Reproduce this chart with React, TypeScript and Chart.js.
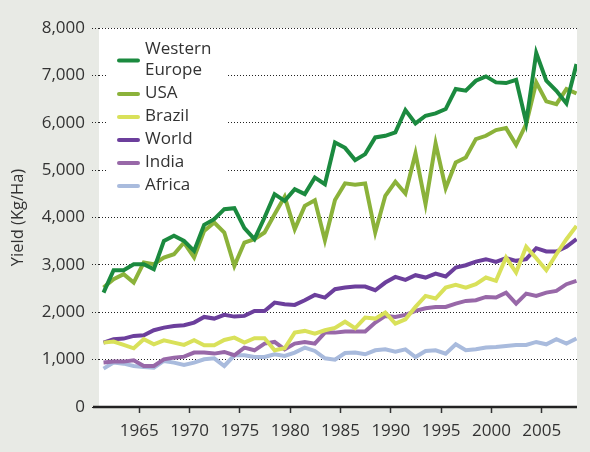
import React, { useEffect, useRef } from "react";
import { Chart, registerables } from "chart.js";

Chart.register(...registerables);

const years = [
  1961, 1962, 1963, 1964, 1965, 1966, 1967, 1968, 1969, 1970,
  1971, 1972, 1973, 1974, 1975, 1976, 1977, 1978, 1979, 1980,
  1981, 1982, 1983, 1984, 1985, 1986, 1987, 1988, 1989, 1990,
  1991, 1992, 1993, 1994, 1995, 1996, 1997, 1998, 1999, 2000,
  2001, 2002, 2003, 2004, 2005, 2006, 2007, 2008,
];

const westernEurope = [
  2415, 2887, 2887, 3014, 3014, 2908, 3507, 3613, 3507, 3296,
  3845, 3965, 4176, 4197, 3775, 3542, 4000, 4493, 4352, 4599,
  4493, 4845, 4704, 5585, 5470, 5211, 5338, 5690, 5725, 5796,
  6268, 5986, 6148, 6197, 6289, 6711, 6676, 6887, 6979, 6852,
  6838, 6908, 6007, 7472, 6887, 6676, 6408, 7239,
];
const usa = [
  2521, 2697, 2803, 2627, 3049, 3014, 3155, 3225, 3472, 3155,
  3718, 3894, 3683, 2979, 3472, 3542, 3683, 4070, 4437, 3754,
  4246, 4366, 3521, 4370, 4720, 4690, 4718, 3683, 4458, 4754,
  4507, 5352, 4282, 5563, 4620, 5162, 5268, 5655, 5725, 5845,
  5887, 5535, 5972, 6852, 6451, 6394, 6711, 6620,
];
const brazil = [
  1359, 1380, 1310, 1239, 1430, 1324, 1408, 1359, 1310, 1408,
  1303, 1303, 1415, 1465, 1359, 1451, 1451, 1197, 1239, 1570,
  1606, 1549, 1620, 1670, 1800, 1662, 1887, 1866, 1993, 1761,
  1852, 2113, 2345, 2289, 2521, 2577, 2521, 2592, 2732, 2662,
  3155, 2838, 3380, 3141, 2887, 3225, 3542, 3824,
];
const world = [
  1359, 1430, 1444, 1500, 1514, 1620, 1676, 1711, 1725, 1782,
  1901, 1866, 1944, 1908, 1923, 2028, 2028, 2204, 2169, 2155,
  2254, 2366, 2310, 2486, 2521, 2542, 2542, 2465, 2627, 2746,
  2683, 2782, 2732, 2817, 2754, 2944, 2993, 3070, 3120, 3063,
  3141, 3085, 3120, 3352, 3282, 3282, 3380, 3542,
];
const india = [
  937, 958, 958, 986, 866, 866, 1007, 1042, 1063, 1148,
  1148, 1127, 1162, 1092, 1254, 1197, 1338, 1373, 1218, 1338,
  1373, 1338, 1570, 1570, 1592, 1592, 1592, 1782, 1923, 1901,
  1944, 2028, 2085, 2113, 2113, 2183, 2239, 2254, 2324, 2310,
  2415, 2183, 2394, 2345, 2415, 2451, 2592, 2662,
];
const africa = [
  810, 937, 915, 866, 845, 831, 972, 937, 887, 937,
  1007, 1028, 866, 1092, 1092, 1056, 1056, 1113, 1077, 1148,
  1254, 1183, 1028, 997, 1140, 1148, 1113, 1197, 1218, 1169,
  1218, 1056, 1183, 1197, 1127, 1324, 1197, 1218, 1254, 1268,
  1289, 1310, 1310, 1373, 1324, 1430, 1338, 1444,
];

const seriesNames = ["Western Europe", "USA", "Brazil", "World", "India", "Africa"];
const seriesValues = [westernEurope, usa, brazil, world, india, africa];
const seriesColors = ["#1b8a3f", "#8bb23a", "#d9e15a", "#6c3f9c", "#9868a8", "#a9bbdd"];

const xTicks = [1965, 1970, 1975, 1980, 1985, 1990, 1995, 2000, 2005];
const yTitle = "Yield (Kg/Ha)";

const FONT = "'Open Sans', 'Liberation Sans', Arial, sans-serif";
const TEXT = "#333333";

export default function App() {
  const ref = useRef<HTMLCanvasElement>(null);

  useEffect(() => {
    const canvas = ref.current!;
    const bgPlugin = {
      id: "bg",
      beforeDraw(chart: any) {
        const { ctx, chartArea } = chart;
        ctx.save();
        ctx.fillStyle = "#ffffff";
        ctx.fillRect(chartArea.left, chartArea.top, chartArea.right - chartArea.left, chartArea.bottom - chartArea.top);
        ctx.restore();
      },
    };
    const legendPlugin = {
      id: "customLegend",
      beforeDatasetsDraw(chart: any) {
        const { ctx, chartArea } = chart;
        ctx.save();
        ctx.fillStyle = "#ffffff";
        ctx.fillRect(chartArea.left + 9, chartArea.top + 6, 118, 166);
        ctx.font = `17px ${FONT}`;
        ctx.textBaseline = "middle";
        ctx.textAlign = "left";
        let y = chartArea.top + 21;
        seriesNames.forEach((name, i) => {
          const lines = name.includes(" ") ? name.split(" ") : [name];
          const ys = lines.map((_, k) => y + k * 21);
          const my = (ys[0] + ys[ys.length - 1]) / 2 + 1;
          ctx.strokeStyle = seriesColors[i];
          ctx.lineWidth = 4;
          ctx.lineCap = "round";
          ctx.beginPath();
          ctx.moveTo(chartArea.left + 20, my);
          ctx.lineTo(chartArea.left + 39, my);
          ctx.stroke();
          ctx.fillStyle = TEXT;
          lines.forEach((ln, k) => ctx.fillText(ln, chartArea.left + 46, ys[k]));
          y = ys[ys.length - 1] + 23;
        });
        ctx.restore();
      },
      afterDraw(chart: any) {
        const { ctx, chartArea } = chart;
        ctx.save();
        ctx.strokeStyle = "#222222";
        ctx.lineWidth = 2.5;
        ctx.beginPath();
        ctx.moveTo(chartArea.left - 6, chartArea.bottom);
        ctx.lineTo(chartArea.right, chartArea.bottom);
        ctx.stroke();
        ctx.restore();
      },
    };

    const chart = new Chart(canvas, {
      type: "line",
      data: {
        datasets: seriesNames.map((name, i) => ({
          label: name,
          data: years.map((yr, j) => ({ x: yr + 0.45, y: seriesValues[i][j] })),
          borderColor: seriesColors[i],
          backgroundColor: seriesColors[i],
          borderWidth: 4,
          pointRadius: 0,
          tension: 0,
          fill: false,
        })),
      },
      options: {
        responsive: false,
        animation: false,
        devicePixelRatio: 1,
        layout: { padding: { top: 28, right: 13, left: 0, bottom: 0 } },
        plugins: { legend: { display: false }, tooltip: { enabled: false } },
        scales: {
          x: {
            type: "linear",
            min: 1961,
            max: 2008.5,
            afterBuildTicks: (scale: any) => {
              scale.ticks = xTicks.map((v) => ({ value: v }));
            },
            afterFit: (scale: any) => {
              scale.height = 45;
            },
            border: { display: false },
            grid: {
              drawOnChartArea: false,
              drawTicks: true,
              tickLength: 6,
              tickColor: "#333333",
              tickWidth: 1.5,
            },
            ticks: {
              color: TEXT,
              font: { family: FONT, size: 17 },
              padding: 8,
              maxRotation: 0,
              autoSkip: false,
              callback: (v: any) => String(v),
            },
          },
          y: {
            min: 0,
            max: 8000,
            afterFit: (scale: any) => {
              scale.width = 99;
            },
            border: { display: false, dash: [1, 2] },
            grid: {
              color: "#222222",
              lineWidth: 1,
              tickLength: 7,
              tickColor: "#222222",
              tickBorderDash: [1, 2],
            },
            title: {
              display: true,
              text: yTitle,
              color: TEXT,
              font: { family: FONT, size: 16.5 },
              padding: { top: 8, bottom: 0 },
            },
            ticks: {
              stepSize: 1000,
              color: TEXT,
              font: { family: FONT, size: 17 },
              padding: 7,
              callback: (v: any) => Number(v).toLocaleString("en-US"),
            },
          },
        },
      },
      plugins: [bgPlugin, legendPlugin],
    });
    return () => chart.destroy();
  }, []);

  return (
    <div style={{ position: "fixed", left: 0, top: 0, width: 590, height: 452, background: "#e8eae5" }}>
      <canvas ref={ref} width={590} height={452} style={{ display: "block" }} />
    </div>
  );
}
